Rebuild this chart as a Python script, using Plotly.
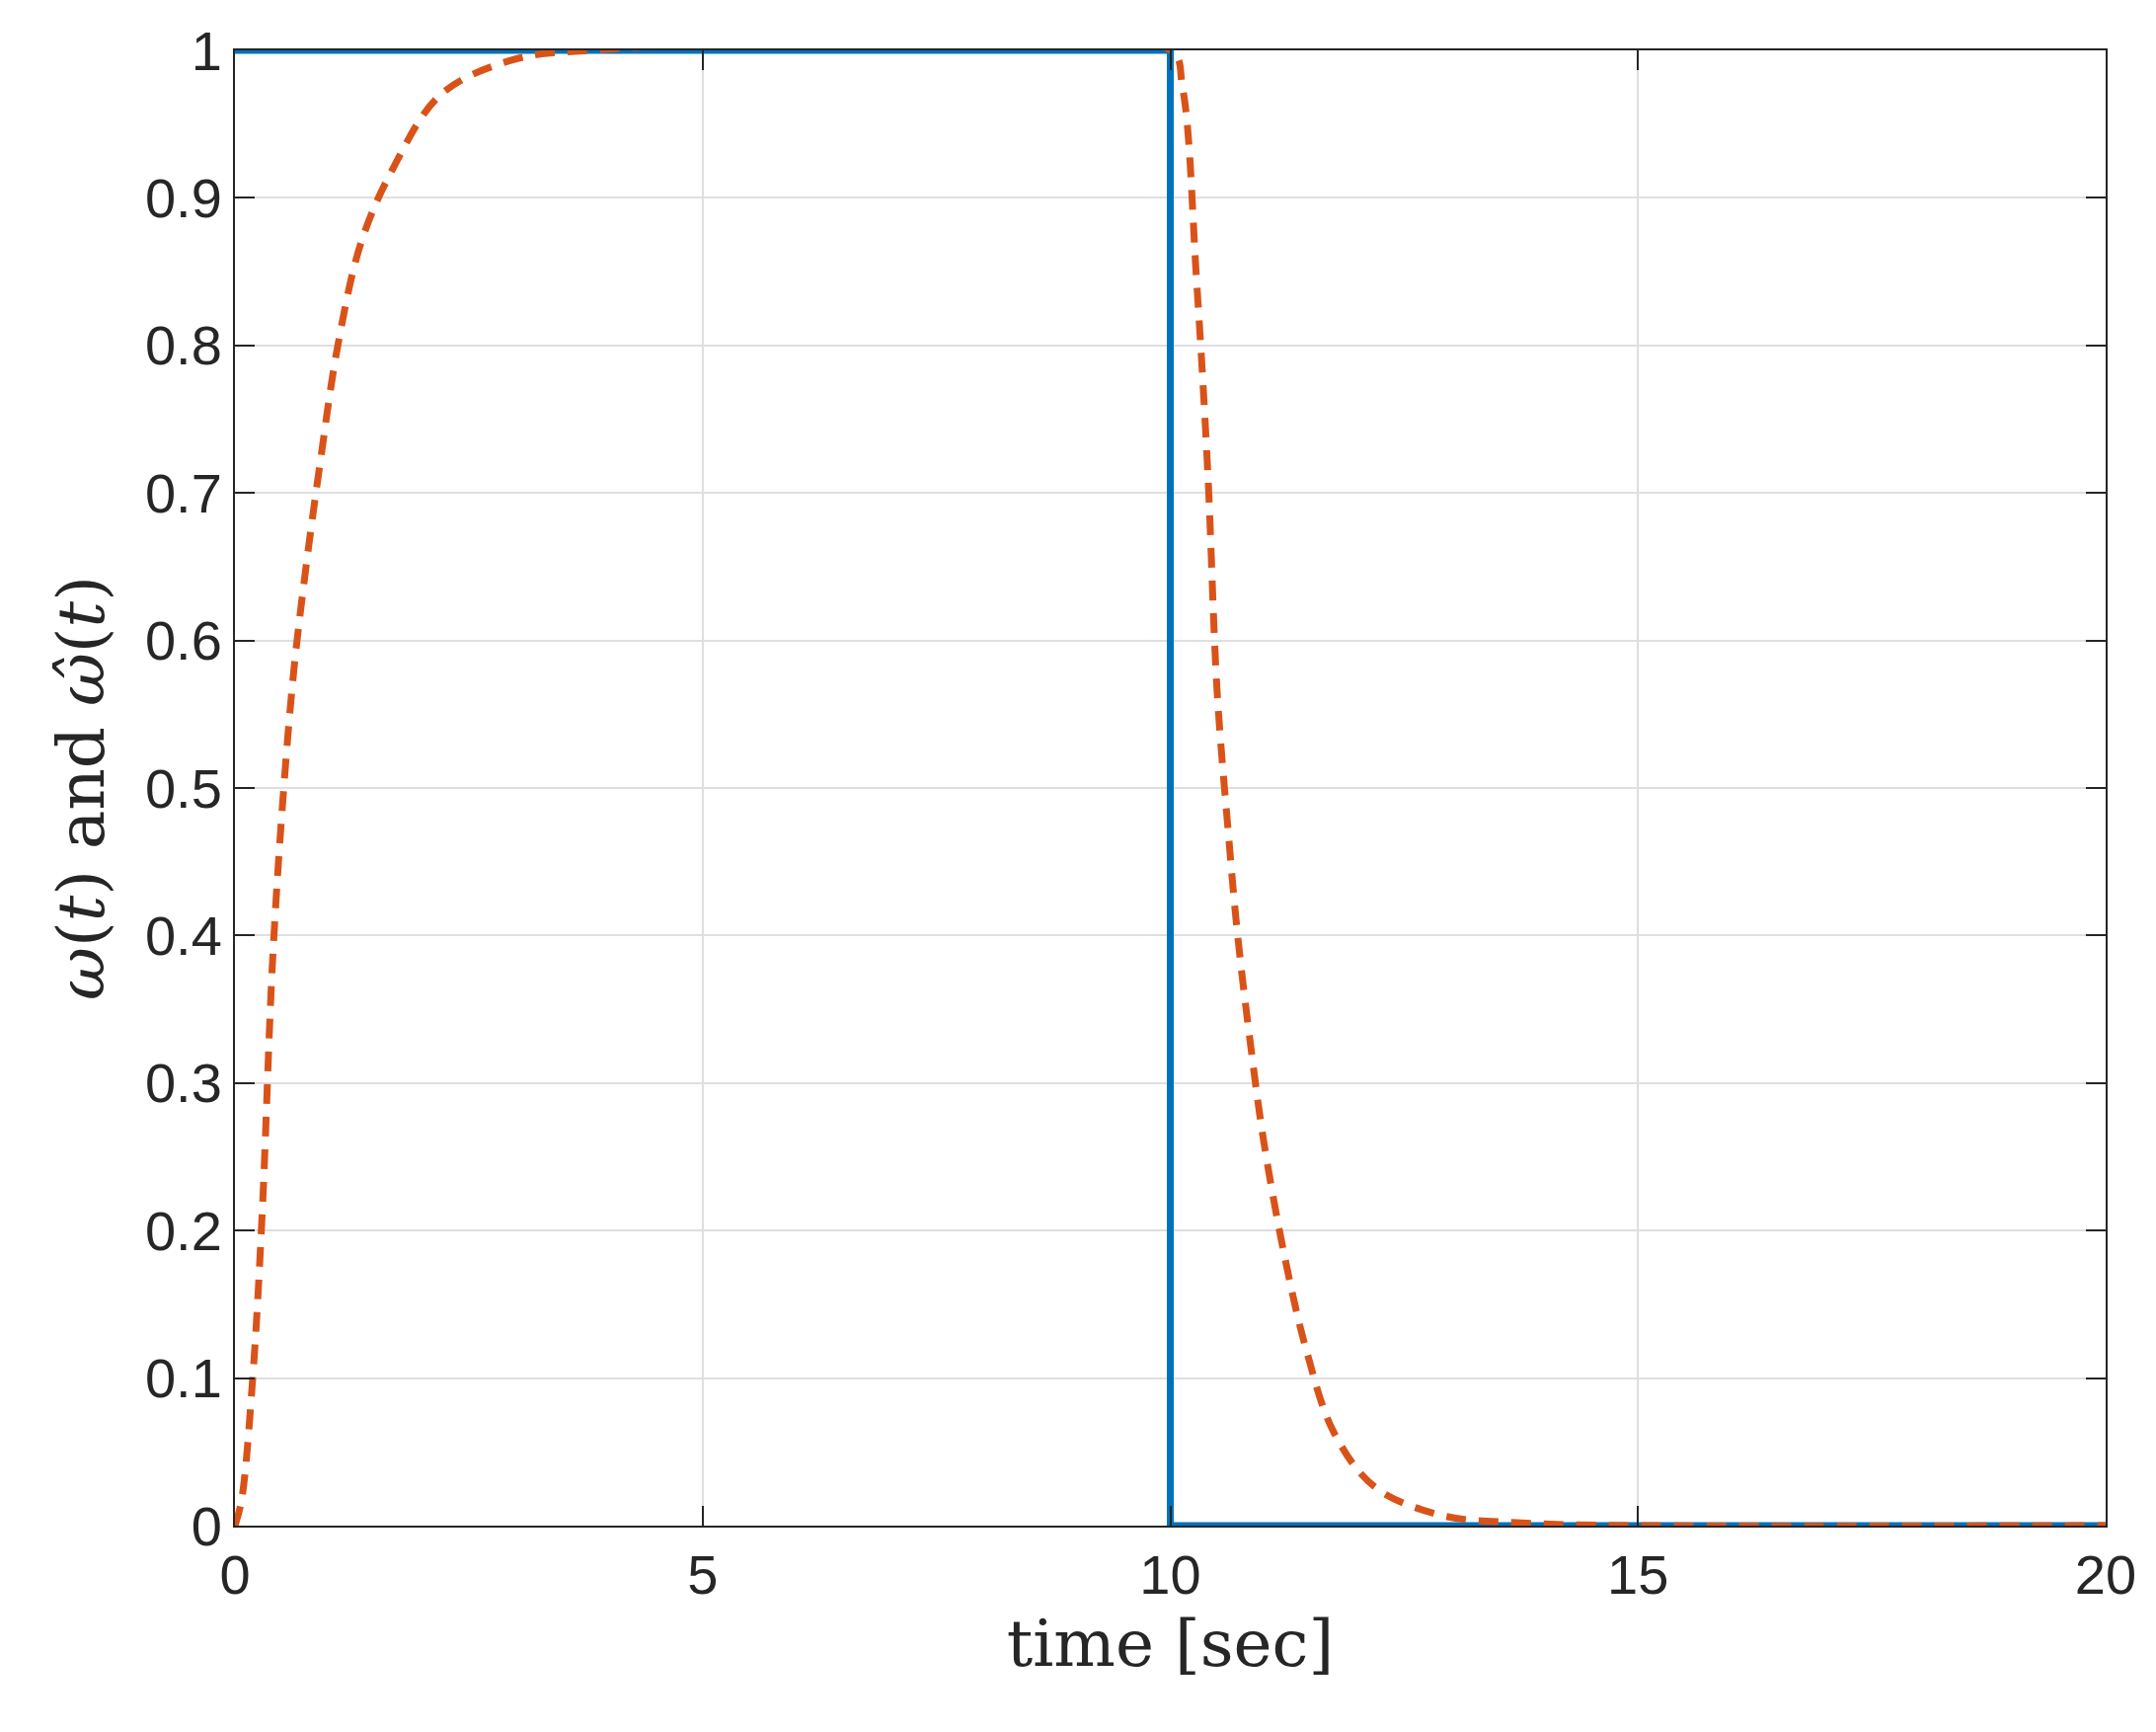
import plotly.graph_objects as go

# reference step input
t_step = [0, 10, 10, 20]
w_step = [1, 1, 0, 0]

# estimate
t_hat = [0, 0.07, 0.19, 0.29, 0.4, 0.51, 0.63, 0.76, 0.91, 1.1, 1.35, 1.69, 2.2, 2.94, 3.8, 10.0,
         10.13, 10.28, 10.4, 10.5, 10.62, 10.72, 10.87, 11.0, 11.23, 11.45, 11.75, 12.19, 12.9, 13.7, 15.0, 20.0]
w_hat = [0, 0.017, 0.1, 0.21, 0.38, 0.49, 0.58, 0.65, 0.72, 0.8, 0.87, 0.92, 0.97, 0.993, 1.0, 1.0,
         0.975, 0.845, 0.715, 0.566, 0.47, 0.40, 0.32, 0.26, 0.18, 0.12, 0.063, 0.026, 0.007, 0.002, 0, 0]

fig = go.Figure().update_layout(template="plotly_white")
fig.add_trace(go.Scatter(x=t_step, y=w_step, mode="lines",
                         line=dict(color="#0072BD", width=7), showlegend=False))
fig.add_trace(go.Scatter(x=t_hat, y=w_hat, mode="lines", line_shape="spline",
                         line=dict(color="#D95319", width=7, dash="20px,13px"), showlegend=False))

axis_common = dict(
    showgrid=True, gridcolor="#DFDFDF", gridwidth=2, zeroline=False,
    showline=True, linecolor="#262626", linewidth=2, mirror="allticks",
    ticks="inside", ticklen=20, tickwidth=2, tickcolor="#262626",
    tickfont=dict(family="Liberation Sans, Arial", size=56, color="#262626"),
)
fig.update_xaxes(range=[0, 20], tickvals=[0, 5, 10, 15, 20], **axis_common,
                 title=dict(text="time [sec]", standoff=8,
                            font=dict(family="DejaVu Serif", size=66, color="#262626")))
fig.update_yaxes(range=[0, 1], dtick=0.1, **axis_common,
                 title=dict(text="<i>ω</i>(<i>t</i>) and <i>ω̂</i>(<i>t</i>)", standoff=20,
                            font=dict(family="DejaVu Serif", size=66, color="#262626")))
fig.update_layout(width=2184, height=1754, paper_bgcolor="white", plot_bgcolor="white",
                  margin=dict(l=230, r=59, t=39, b=217))
fig.write_html("out.html")
